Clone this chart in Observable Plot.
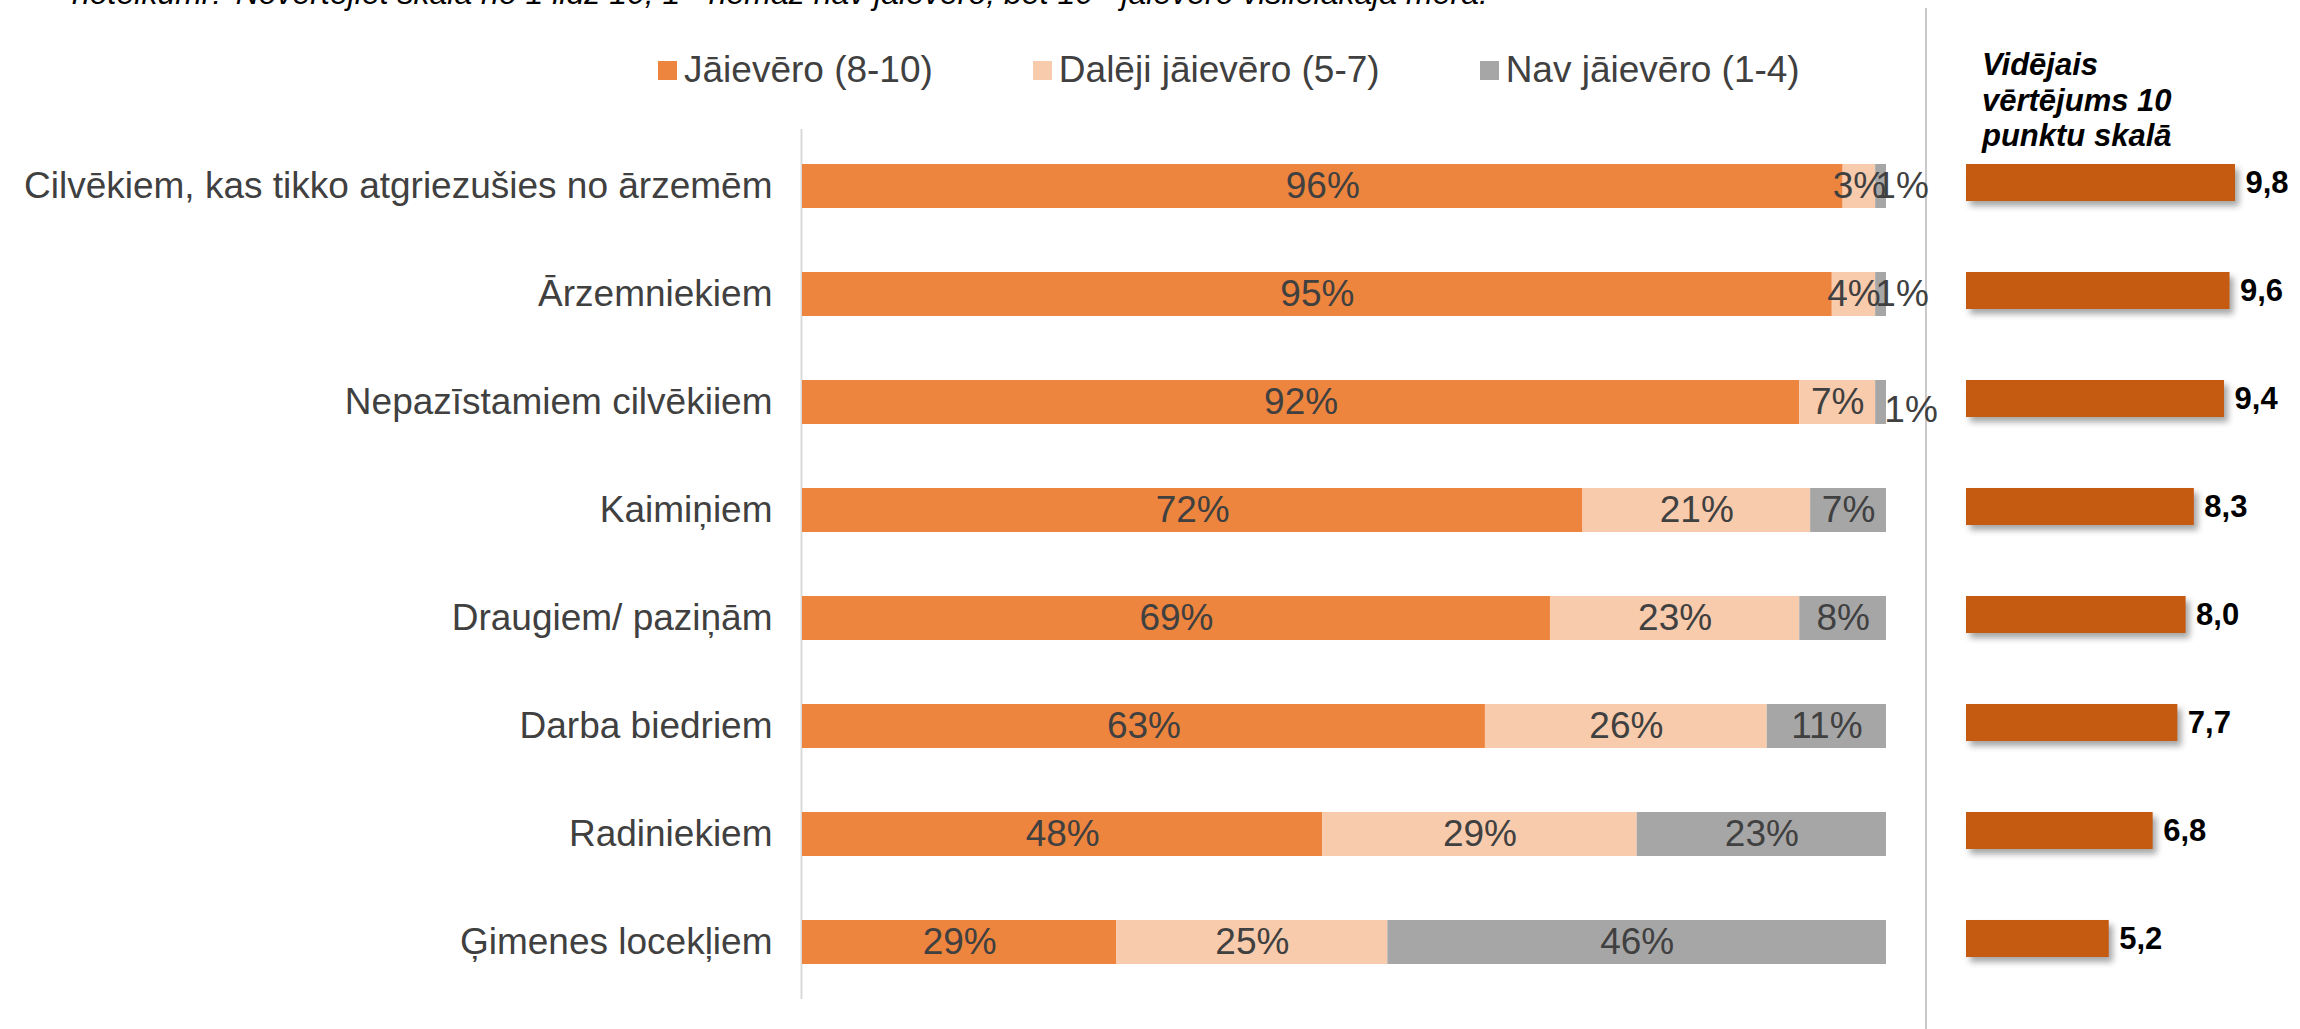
<!DOCTYPE html>
<html>
<head>
<meta charset="utf-8">
<script src="https://cdn.jsdelivr.net/npm/d3@7"></script>
<script src="https://cdn.jsdelivr.net/npm/@observablehq/plot@0.6"></script>
<style>
  html, body { margin: 0; padding: 0; background: #fff; }
  #root { position: relative; width: 2300px; height: 1029px; overflow: hidden;
          font-family: "Liberation Sans", Arial, sans-serif; background: #fff; }
  #toptext { position: absolute; left: 72px; top: -23px; font-size: 32px; line-height: 32px;
             font-style: italic; color: #000; white-space: nowrap; }
  #legend { position: absolute; left: 658px; top: 50px; display: flex; gap: 100px;
            font-size: 37px; line-height: 40px; color: #404040; white-space: nowrap; }
  .li { display: flex; align-items: center; }
  .sw { width: 19px; height: 19px; margin-right: 7px; }
  #sep { position: absolute; left: 1925px; top: 8px; height: 1021px; border-left: 2px solid #c9c9c9; }
  #hdr { position: absolute; left: 1982px; top: 47px; font-size: 31px; line-height: 35.5px;
         font-weight: bold; font-style: italic; color: #000; white-space: nowrap; }
  #left { position: absolute; left: 0; top: 100px; }
  #right { position: absolute; left: 1923px; top: 100px; }
  #left svg, #right svg { max-width: none; overflow: visible; }
</style>
</head>
<body>
<div id="root">
  <div id="toptext"></div>
  <div id="legend"></div>
  <div id="sep"></div>
  <div id="hdr"></div>
  <div id="left"></div>
  <div id="right"></div>
</div>
<script>
const topText = "noteikumi? Novērtējiet skalā no 1 līdz 10, 1 - nemaz nav jāievēro, bet 10 - jāievēro vislielākajā mērā.";
const categories = [
  "Cilvēkiem, kas tikko atgriezušies no ārzemēm",
  "Ārzemniekiem",
  "Nepazīstamiem cilvēkiiem",
  "Kaimiņiem",
  "Draugiem/ paziņām",
  "Darba biedriem",
  "Radiniekiem",
  "Ģimenes locekļiem"
];
const seriesNames = ["Jāievēro (8-10)", "Dalēji jāievēro (5-7)", "Nav jāievēro (1-4)"];
const jaievero = [96, 95, 92, 72, 69, 63, 48, 29];
const daleji   = [3, 4, 7, 21, 23, 26, 29, 25];
const nav      = [1, 1, 1, 7, 8, 11, 23, 46];
const averages = [9.8, 9.6, 9.4, 8.3, 8.0, 7.7, 6.8, 5.2];
const headerLines = ["Vidējais", "vērtējums 10", "punktu skalā"];
const seriesColors = ["#EE853F", "#F8CBAD", "#A6A6A6"];
const avgColor = "#C55A11";

const FONT = '"Liberation Sans", Arial, sans-serif';

document.getElementById("toptext").textContent = topText;
document.getElementById("hdr").innerHTML = headerLines.join("<br>");

const legend = document.getElementById("legend");
seriesNames.forEach((s, i) => {
  const item = document.createElement("div");
  item.className = "li";
  const sw = document.createElement("div");
  sw.className = "sw";
  sw.style.background = seriesColors[i];
  const t = document.createElement("span");
  t.textContent = s;
  item.appendChild(sw); item.appendChild(t);
  legend.appendChild(item);
});

const seriesValues = [jaievero, daleji, nav];
const rows = [];
categories.forEach((c, i) => {
  seriesNames.forEach((s, j) => rows.push({cat: c, series: s, value: seriesValues[j][i]}));
});
const avgRows = categories.map((c, i) => ({cat: c, value: averages[i]}));

const labelOpts = (extra) => Plot.stackX({
  x: "value", y: "cat", z: "series",
  text: d => d.value + "%",
  fill: "#404040", fontSize: 37, fontFamily: FONT,
  ...extra
});

const left = Plot.plot({
  width: 1923, height: 929,
  marginLeft: 802, marginRight: 37, marginTop: 29, marginBottom: 30,
  style: {fontFamily: FONT, fontSize: "37px", color: "#404040", background: "transparent", overflow: "visible"},
  x: {domain: [0, 100], axis: null},
  y: {domain: categories, padding: 0, label: null, tickSize: 0, tickPadding: 30},
  color: {domain: seriesNames, range: seriesColors},
  marks: [
    Plot.ruleX([0], {stroke: "#d9d9d9", strokeWidth: 2, dx: -1}),
    Plot.barX(rows, {x: "value", y: "cat", fill: "series", insetTop: 32, insetBottom: 32}),
    Plot.text(rows, Plot.filter(d => d.value >= 2, labelOpts({}))),
    Plot.text(rows, Plot.filter(d => d.value < 2 && d.cat !== categories[2], labelOpts({dx: 21}))),
    Plot.text(rows, Plot.filter(d => d.value < 2 && d.cat === categories[2], labelOpts({dx: 30, dy: 8})))
  ]
});
document.getElementById("left").appendChild(left);

const right = Plot.plot({
  width: 377, height: 929,
  marginLeft: 43, marginRight: 59.5, marginTop: 29, marginBottom: 30,
  style: {fontFamily: FONT, background: "transparent", overflow: "visible"},
  x: {domain: [0, 10], axis: null},
  y: {domain: categories, padding: 0, axis: null},
  marks: [
    Plot.barX(avgRows, {x: "value", y: "cat", fill: avgColor, insetTop: 32, insetBottom: 39}),
    Plot.text(avgRows, {x: "value", y: "cat", text: d => d.value.toFixed(1).replace(".", ","),
      textAnchor: "start", dx: 10, dy: -3, fontSize: 31, fontWeight: "bold", fill: "#000", fontFamily: FONT})
  ]
});
d3.select(right).selectAll('g[aria-label="bar"]').style("filter", "drop-shadow(4px 5px 3px rgba(0,0,0,0.35))");
document.getElementById("right").appendChild(right);
</script>
</body>
</html>
